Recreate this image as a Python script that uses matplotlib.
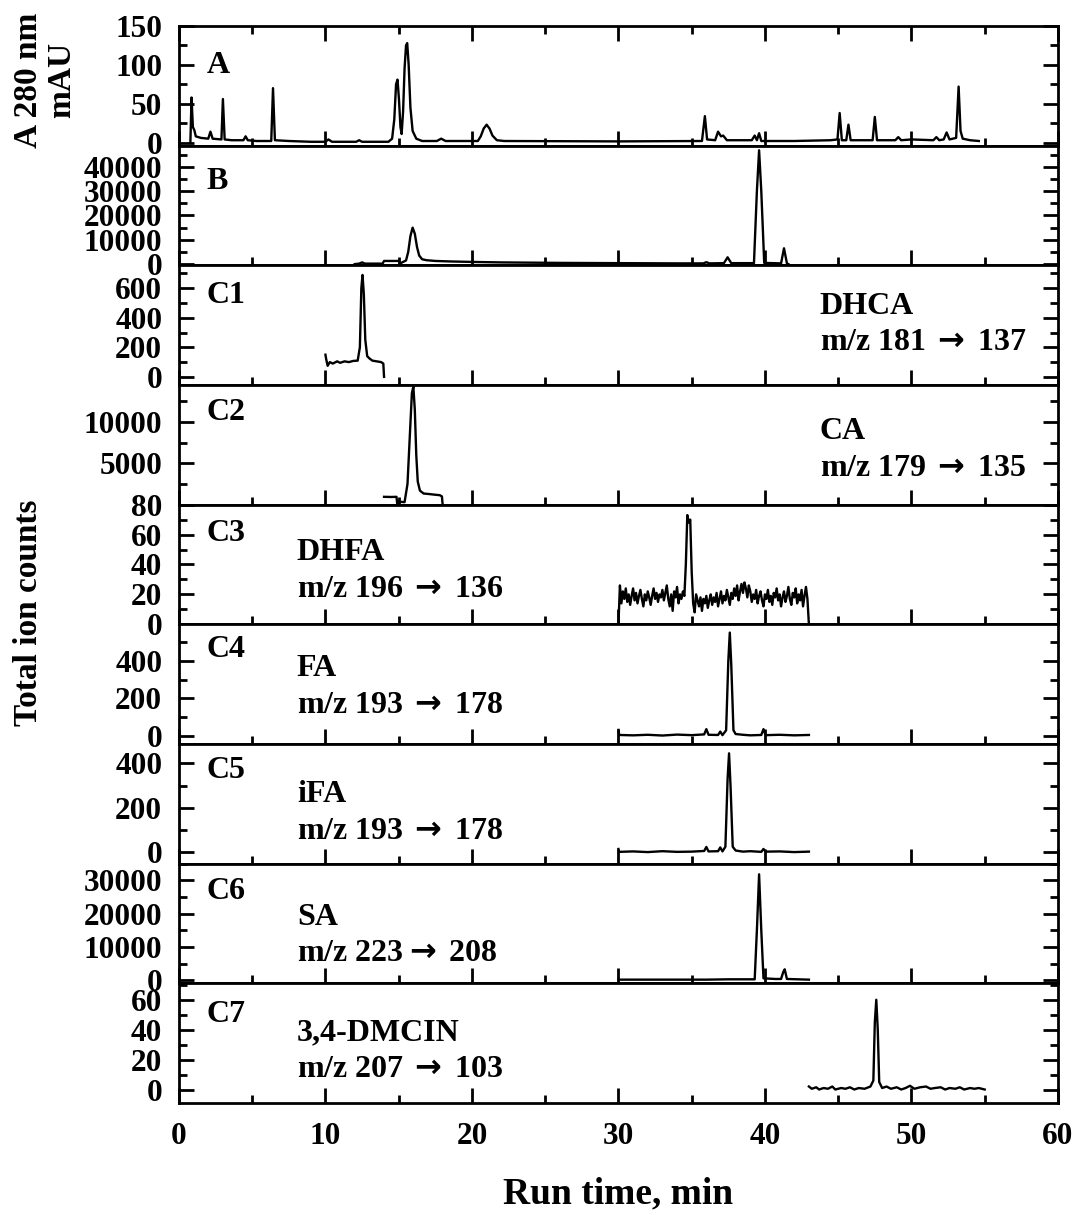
import numpy as np
import matplotlib
matplotlib.use("Agg")
import matplotlib.pyplot as plt
from matplotlib.ticker import MultipleLocator, FixedLocator

plt.rcParams['font.family'] = ['Liberation Serif', 'DejaVu Serif']
plt.rcParams['font.weight'] = 'bold'
plt.rcParams['mathtext.fontset'] = 'dejavusans'

# ---- trace data (time in min, signal) ----
A_time = [0.78, 0.86, 0.95, 1.05, 1.15, 1.5, 2.0, 2.15, 2.3, 2.9, 3.0, 3.12, 3.6, 4.4, 4.55, 4.7,
          5.3, 6.3, 6.42, 6.55, 7.5, 9.0, 10.0, 10.2, 10.45, 12.1, 12.3, 12.5, 14.3, 14.55, 14.7,
          14.82, 14.92, 15.02, 15.12, 15.2, 15.3, 15.4, 15.5, 15.58, 15.68, 15.8, 15.95, 16.2,
          16.6, 17.6, 17.9, 18.2, 20.4, 20.6, 20.8, 21.0, 21.2, 21.4, 21.7, 22.2, 30.0, 35.7,
          35.9, 36.05, 36.6, 36.8, 37.0, 37.15, 37.4, 39.1, 39.3, 39.45, 39.6, 39.75, 42.0, 44.5,
          44.95, 45.1, 45.25, 45.55, 45.7, 45.85, 47.35, 47.5, 47.65, 48.9, 49.1, 49.3, 50.0,
          51.5, 51.7, 51.9, 52.2, 52.4, 52.6, 53.05, 53.22, 53.35, 53.5, 54.0, 54.6]
A_signal = [0, 58, 20, 16, 8, 6, 5, 14, 5, 4, 56, 4, 3, 3, 8, 3,
            2, 2, 70, 3, 2, 1, 1, 4, 1, 1, 3, 1, 1, 5, 30,
            75, 81, 55, 20, 11, 40, 95, 125, 128, 100, 45, 15, 5,
            2, 2, 5, 2, 2, 8, 18, 23, 18, 9, 3, 2, 1.5, 2,
            34, 4, 3, 14, 8, 9, 3, 3, 9, 3, 12, 2, 2, 3,
            4, 38, 3, 3, 23, 3, 3, 33, 3, 3, 7, 3, 4,
            3, 7, 3, 4, 13, 4, 6, 72, 15, 5, 3, 2]

B_time = [12.0, 12.3, 12.5, 12.7, 13.9, 14.0, 15.0, 15.1, 15.5, 15.65, 15.8, 15.95, 16.1, 16.25,
          16.4, 16.6, 16.9, 17.5, 18.5, 20.0, 22.0, 26.0, 30.0, 34.0, 35.8, 36.0, 36.2, 37.2,
          37.45, 37.7, 39.25, 39.45, 39.6, 39.75, 39.95, 41.1, 41.3, 41.5, 41.6]
B_signal = [0, 200, 700, 200, 200, 1300, 1300, 300, 1500, 5000, 11500, 15000, 12500, 7000,
            3500, 2000, 1600, 1300, 1100, 900, 700, 500, 400, 300, 300, 800, 300, 400,
            2800, 400, 400, 30000, 46800, 30000, 500, 300, 6500, 300, 0]

C1_time = [10.0, 10.05, 10.15, 10.3, 10.5, 10.8, 11.0, 11.3, 11.6, 11.9, 12.2, 12.35, 12.45, 12.53,
           12.62, 12.72, 12.85, 13.0, 13.2, 13.5, 13.8, 13.95, 14.0]
C1_signal = [150, 120, 75, 100, 90, 105, 95, 105, 100, 108, 110, 200, 600, 690,
             560, 250, 140, 125, 110, 105, 100, 90, 0]

C2_time = [14.0, 14.5, 14.85, 14.9, 15.0, 15.1, 15.4, 15.6, 15.75, 15.9, 16.0, 16.1, 16.2, 16.3,
           16.45, 16.7, 17.0, 17.5, 17.8, 17.95, 18.0]
C2_signal = [950, 930, 950, 100, 400, 350, 300, 2500, 8000, 13500, 14300, 11500, 6000, 2800,
             1700, 1350, 1300, 1200, 1150, 1000, 0]

# C3 sampled every 0.1 min from 30.0 to 43.0
C3_signal = [0, 26, 14, 22, 17, 24, 15, 20, 13, 19, 24, 16, 21, 14, 19, 23, 17, 12, 20, 16,
             22, 18, 13, 19, 24, 17, 21, 15, 20, 18, 23, 16, 21, 26, 17, 12, 20, 9, 22, 18,
             25, 14, 20, 17, 22, 19, 40, 73, 68, 70, 35, 14, 8, 20, 16, 12, 18, 9, 17, 14,
             19, 11, 16, 20, 13, 18, 15, 21, 12, 17, 22, 14, 19, 16, 23, 18, 13, 21, 17, 24,
             19, 26, 16, 22, 27, 21, 28, 24, 18, 26, 22, 15, 20, 17, 23, 14, 19, 22, 16, 12,
             20, 17, 23, 15, 19, 13, 21, 18, 24, 16, 20, 12, 18, 22, 15, 19, 25, 17, 13, 21,
             18, 24, 14, 20, 16, 23, 12, 19, 25, 17, 0]
C3_time = np.linspace(30.0, 43.0, len(C3_signal))

C4_time = [30.0, 30.05, 31.0, 32.0, 33.0, 34.0, 35.0, 35.85, 36.0, 36.15, 36.8, 36.95, 37.1, 37.35,
           37.5, 37.6, 37.7, 37.85, 38.0, 38.5, 39.0, 39.75, 39.9, 40.05, 41.0, 42.0, 43.0]
C4_signal = [32, 5, 3, 6, 2, 7, 4, 8, 36, 6, 5, 23, 4, 30,
             400, 550, 380, 30, 10, 6, 3, 5, 36, 4, 6, 3, 5]

C5_time = [30.0, 30.05, 31.0, 32.0, 33.0, 34.0, 35.0, 35.85, 36.0, 36.15, 36.8, 36.95, 37.1, 37.3,
           37.45, 37.55, 37.65, 37.8, 38.0, 38.5, 39.0, 39.75, 39.9, 40.05, 41.0, 42.0, 43.0]
C5_signal = [15, 2, 4, 1, 5, 2, 3, 6, 24, 4, 5, 22, 4, 25,
             330, 445, 300, 25, 8, 3, 5, 2, 15, 3, 4, 1, 3]

C6_time = [30.0, 36.0, 37.5, 39.3, 39.45, 39.6, 39.75, 39.9, 40.3, 40.7, 41.1, 41.25, 41.35, 41.5,
           43.0]
C6_signal = [200, 200, 300, 300, 15000, 31800, 15000, 600, 500, 400, 400, 2500, 3300, 400,
             200]

C7_time = [43.0, 43.2, 43.5, 43.7, 44.0, 44.3, 44.6, 44.8, 45.2, 45.5, 45.8, 46.1, 46.4, 46.8,
           47.2, 47.4, 47.5, 47.6, 47.7, 47.8, 48.0, 48.3, 48.6, 49.0, 49.3, 49.6, 49.9, 50.2,
           50.6, 51.0, 51.3, 51.6, 52.0, 52.3, 52.6, 53.0, 53.3, 53.6, 54.0, 54.3, 54.6, 55.0]
C7_signal = [2, 0.5, 1.5, 0, 1, 0.5, 2, 0, 1, 0.5, 1.5, 0, 1, 0.5,
             2, 6, 45, 60, 40, 5, 1, 2, 0.5, 1.5, 0, 1, 2.5, 0.5,
             1.5, 2, 0.5, 1, 1.5, 0, 1, 0.5, 1.5, 0, 1, 0.5, 1, 0]

panel_names = ["A", "B", "C1", "C2", "C3", "C4", "C5", "C6", "C7"]
arrow = r"$\,\mathbf{\rightarrow}\,$"
compound_labels = [None, None, "DHCA\nm/z 181" + arrow + "137", "CA\nm/z 179" + arrow + "135",
                   "DHFA\nm/z 196" + arrow + "136", "FA\nm/z 193" + arrow + "178",
                   "iFA\nm/z 193" + arrow + "178", "SA\nm/z 223" + r"$\mathbf{\rightarrow}\,$" + "208",
                   "3,4-DMCIN\nm/z 207" + arrow + "103"]

traces = [(A_time, A_signal), (B_time, B_signal), (C1_time, C1_signal), (C2_time, C2_signal),
          (C3_time, C3_signal), (C4_time, C4_signal), (C5_time, C5_signal),
          (C6_time, C6_signal), (C7_time, C7_signal)]

ylims = [(-4, 150), (-500, 48700), (-55, 755), (0, 14500), (0, 80),
         (-43, 594), (-51, 487), (-900, 35000), (-9, 71)]
major_ticks = [[0, 50, 100, 150], [0, 10000, 20000, 30000, 40000], [0, 200, 400, 600],
               [5000, 10000], [0, 20, 40, 60, 80], [0, 200, 400], [0, 200, 400],
               [0, 10000, 20000, 30000], [0, 20, 40, 60]]
minor_step = [25, 5000, 100, 2500, 10, 100, 100, 5000, 10]

name_y = [0.79, 0.82, 0.87, 0.89, 0.88, 0.91, 0.90, 0.89, 0.86]
comp_x = [None, None, 43.75, 43.75, 8.05, 8.05, 8.05, 8.05, 8.05]
comp_y = [None, None, 0.78, 0.73, 0.72, 0.75, 0.70, 0.675, 0.71]

fig, axes = plt.subplots(9, 1, sharex=True, figsize=(10.78, 12.15), dpi=100)
fig.subplots_adjust(left=0.166, right=0.9814, top=0.9786, bottom=0.0922, hspace=0)

for i, ax in enumerate(axes):
    t, s = traces[i]
    ax.plot(t, s, color='black', lw=1.7)
    ax.set_xlim(0, 60)
    ax.set_ylim(*ylims[i])
    ax.yaxis.set_major_locator(FixedLocator(major_ticks[i]))
    ax.yaxis.set_minor_locator(MultipleLocator(minor_step[i]))
    ax.xaxis.set_major_locator(MultipleLocator(10))
    ax.xaxis.set_minor_locator(MultipleLocator(5))
    ax.tick_params(axis='both', which='major', direction='in', length=11, width=2,
                   labelsize=22.5, right=True)
    ax.tick_params(axis='both', which='minor', direction='in', length=6, width=2, right=True)
    ax.tick_params(axis='x', which='both', top=(i == 0), pad=14)
    ax.tick_params(axis='y', which='both', pad=12)
    for sp in ax.spines.values():
        sp.set_linewidth(2)
    ax.text(1.9, name_y[i], panel_names[i], fontsize=23, fontweight='bold', va='top', ha='left',
            transform=ax.get_xaxis_transform())
    if compound_labels[i]:
        ax.text(comp_x[i], comp_y[i], compound_labels[i], fontsize=23, fontweight='bold',
                va='top', ha='left', linespacing=1.35, transform=ax.get_xaxis_transform())

fig.text(0.042, 1 - 80 / 1215, "A 280 nm\nmAU", rotation=90, fontsize=24, fontweight='bold',
         ha='center', va='center', multialignment='center', linespacing=1.1)
fig.text(0.026, 1 - 613 / 1215, "Total ion counts", rotation=90, fontsize=24,
         fontweight='bold', ha='center', va='center')
fig.text((0.166 + 0.9814) / 2, 1 - 1194 / 1215, "Run time, min", fontsize=27,
         fontweight='bold', ha='center', va='center')

fig.savefig("out.png", dpi=100)
